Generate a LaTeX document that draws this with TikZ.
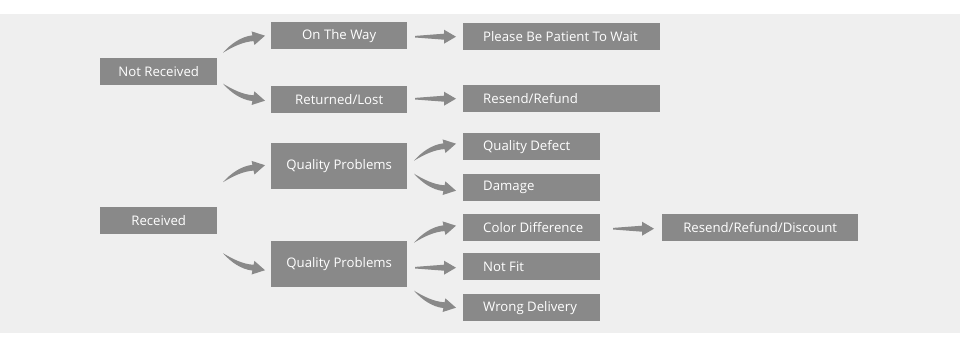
\documentclass[tikz,border=0pt]{standalone}
\usepackage{fontspec}
\setmainfont{Open Sans}
\usetikzlibrary{calc}
\definecolor{bggray}{HTML}{EFEFEF}
\definecolor{boxgray}{HTML}{898989}
\begin{document}
\begin{tikzpicture}[x=1pt,y=-1pt,
  box/.style={fill=boxgray,text=white,inner sep=0pt,anchor=north west,
    minimum height=27pt,font=\fontsize{13.2}{15}\selectfont},
  uparr/.pic={\fill[boxgray] (-42,17) .. controls (-34,8) and (-24,1) .. (-12.6,-0.4)
      -- (-13.4,-4.3) -- (0,0) -- (-10.6,9.3) -- (-11.4,5.4)
      .. controls (-22,6) and (-32,11) .. (-42,17) -- cycle;},
  downarr/.pic={\fill[boxgray] (-42,-17) .. controls (-34,-8) and (-24,-1) .. (-12.6,0.4)
      -- (-13.4,4.3) -- (0,0) -- (-10.6,-9.3) -- (-11.4,-5.4)
      .. controls (-22,-6) and (-32,-11) .. (-42,-17) -- cycle;},
  rarr/.pic={\fill[boxgray] (-41,-0.8) -- (-12,-3) -- (-12,-7) -- (0,0) -- (-12,7)
      -- (-12,3) -- (-41,0.8) -- cycle;}
]
\useasboundingbox (0,0) rectangle (960,342);
\fill[white] (0,0) rectangle (960,342);
\fill[bggray] (0,14) rectangle (960,333);

\node[box,minimum width=117pt] (nr) at (100,58) {Not Received};
\node[box,minimum width=136pt] (otw) at (271,22) {On The Way};
\node[box] (pbp) at (463,23) {\makebox[197pt][l]{\hspace{20pt}Please Be Patient To Wait}};
\node[box,minimum width=136pt] (rl) at (271,86) {Returned/Lost};
\node[box] (rr) at (463,85) {\makebox[197pt][l]{\hspace{20pt}Resend/Refund}};

\node[box,minimum width=136pt,minimum height=46pt] (qp1) at (271,143) {Quality Problems};
\node[box] (qd) at (463,133) {\makebox[137pt][l]{\hspace{20pt}Quality Defect}};
\node[box] (dmg) at (463,174) {\makebox[137pt][l]{\hspace{20pt}Damage}};

\node[box,minimum width=117pt] (rec) at (100,207) {Received};
\node[box,minimum width=136pt,minimum height=46pt] (qp2) at (271,241) {Quality Problems};
\node[box] (cd) at (463,214) {\makebox[137pt][l]{\hspace{20pt}Color Difference}};
\node[box] (nf) at (463,253) {\makebox[137pt][l]{\hspace{20pt}Not Fit}};
\node[box] (wd) at (463,294) {\makebox[137pt][l]{\hspace{20pt}Wrong Delivery}};
\node[box,minimum width=196pt] (rrd) at (662,214) {Resend/Refund/Discount};

\pic at ($(otw.west)+(-6,0)$) {uparr};
\pic at ($(rl.west)+(-6,1)$) {downarr};
\pic at ($(qp1.west)+(-6,-1)$) {uparr};
\pic at ($(qp2.west)+(-6,6)$) {downarr};
\pic at ($(pbp.west)+(-7,0)$) {rarr};
\pic at ($(rr.west)+(-7,0)$) {rarr};
\pic at ($(qd.west)+(-7,-3)$) {uparr};
\pic at ($(dmg.west)+(-7,3)$) {downarr};
\pic at ($(cd.west)+(-7,-2)$) {uparr};
\pic at ($(nf.west)+(-7,1)$) {rarr};
\pic at ($(wd.west)+(-7,0)$) {downarr};
\pic at ($(rrd.west)+(-8,1)$) {rarr};
\end{tikzpicture}
\end{document}
